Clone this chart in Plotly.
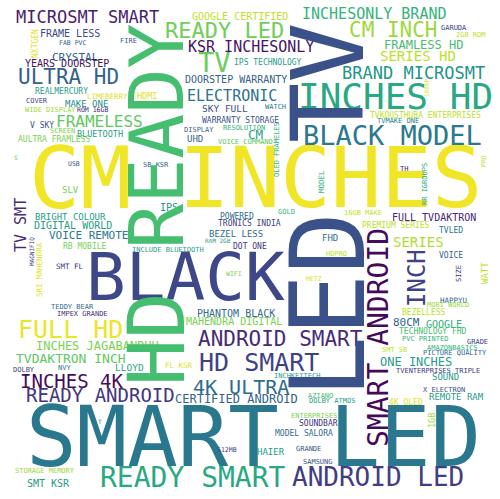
import plotly.graph_objects as go
from plotly.colors import sample_colorscale

# horizontal words: text, centre x/y in picture pixels, font size, viridis tone
words_h = [
    "CM", "INCHES", "SMART LED", "BLACK", "INCHES HD", "BLACK MODEL",
    "READY SMART", "TV", "ANDROID LED", "HD SMART", "FULL HD", "READY LED",
    "ANDROID SMART", "CM INCH", "ULTRA HD", "4K ULTRA", "INCHES 4K", "READY ANDROID",
    "MICROSMT SMART", "BRAND MICROSMT", "FRAMELESS", "KSR INCHESONLY", "INCHESONLY BRAND", "ELECTRONIC",
    "SERIES HD", "SERIES", "TVDAKTRON INCH", "CM", "FRAMLESS HD", "INCHES JAGABANDHU",
    "ONE INCHES", "CERTIFIED ANDROID", "CRYSTAL", "VOICE REMOTE", "80CM", "GOOGLE CERTIFIED",
    "FRAME LESS", "YEARS DOORSTEP", "DOORSTEP WARRANTY", "FULL TVDAKTRON", "DIGITAL WORLD", "PHANTOM BLACK",
    "MAHENDRA DIGITAL", "GOOGLE", "SMT KSR", "SKY FULL", "LLOYD", "UHD",
    "BRIGHT COLOUR", "SLV", "BEZEL LESS", "FHD", "SOUND", "REMOTE RAM",
    "HAIER", "MAKE ONE", "IPS", "HDMI", "BLUETOOTH", "REALMERCURY",
    "V SKY", "AULTRA FRAMLESS", "IPS TECHNOLOGY", "WARRANTY STORAGE", "TVKOUSTHUBA ENTERPRISES", "PREMIUM SERIES",
    "TVLED", "TRONICS INDIA", "POWERED", "DOT ONE", "VOICE", "BEZELLESS",
    "TECHNOLOGY FHD", "RB MOBILE", "4K OLED", "SOUNDBAR", "MODEL SALORA", "LIMEBERRY",
    "SMT FL", "HAPPYU", "FL KSR", "FIRE", "COVER", "WIDE DISPLAY",
    "SCREEN", "SB KSR", "DISPLAY", "RESOLUTION", "VOICE COMMAND", "WATCH",
    "GARUDA", "2GB ROM", "TVMAKE ONE", "TH", "GOLD", "16GB MAKE",
    "HDPRO", "MOBI WORLD", "PVC PRINTED", "GRADE", "SMT SB", "AMAZONBASICS",
    "PICTURE QUALITY", "TVENTERPRISES TRIPLE", "X ELECTRON", "INCLUDE BLUETOOTH", "TEDDY BEAR", "IMPEX GRANDE",
    "DOLBY", "NVY", "INCHKEITECH", "AZIANO", "DOLBY ATMOS", "ENTERPRISES",
    "GRANDE", "SAMSUNG", "STORAGE MEMORY", "FAB PVC", "ROM 16GB", "USB",
    "METZ", "WIFI", "512MB", "RAM 2GB", "S", "T",
]
x_h = [
    80, 330, 253, 185, 395, 392,
    193, 214, 378, 259, 70, 224,
    280, 393, 68, 241, 72, 100,
    87, 413, 99, 251, 374, 232,
    418, 418, 71, 255, 423, 97,
    416, 236, 75, 88, 406, 240,
    70, 67, 236, 434, 73, 236,
    234, 444, 48, 225, 129, 195,
    70, 70, 236, 330, 445, 456,
    271, 86, 169, 147, 100, 61,
    42, 54, 268, 240, 425, 396,
    451, 249, 237, 250, 451, 424,
    433, 85, 406, 318, 304, 107,
    70, 453, 179, 128, 37, 50,
    62, 156, 199, 244, 245, 275,
    454, 471, 398, 404, 286, 363,
    336, 448, 425, 477, 394, 452,
    455, 438, 444, 168, 72, 82,
    24, 64, 297, 320, 332, 314,
    308, 318, 45, 72, 92, 74,
    314, 234, 227, 218, 16, 100,
]
y_h = [
    178, 178, 437, 277, 96, 135,
    477, 62, 477, 362, 329, 30,
    339, 30, 77, 387, 381, 395,
    17, 73, 121, 47, 14, 96,
    56, 242, 358, 134, 45, 346,
    362, 399, 57, 235, 322, 16,
    33, 63, 79, 217, 225, 313,
    321, 324, 483, 108, 367, 139,
    217, 190, 234, 238, 377, 397,
    452, 104, 207, 96, 134, 91,
    125, 139, 62, 120, 115, 225,
    230, 223, 216, 246, 255, 312,
    331, 246, 402, 423, 433, 96,
    266, 300, 365, 41, 101, 110,
    131, 165, 130, 128, 142, 107,
    28, 35, 121, 169, 212, 213,
    254, 305, 339, 342, 350, 348,
    353, 371, 390, 250, 307, 314,
    370, 368, 376, 396, 401, 416,
    449, 462, 471, 43, 110, 164,
    279, 274, 450, 240, 157, 421,
]
size_h = [
    85, 84, 84, 66, 36, 27,
    28, 27, 26, 25, 25, 22,
    21, 21, 21, 20, 19, 19,
    17, 17, 16, 15, 15, 15,
    14, 14, 13, 12.5, 12, 12,
    12, 12, 11, 11, 11, 10,
    10, 10, 10, 10, 10, 10,
    10, 10, 10, 9.5, 9.5, 9,
    9, 9, 9, 9, 9, 9,
    9, 9, 10, 8.5, 8.5, 8,
    8, 8, 8, 8, 8, 8,
    8, 8, 8, 8, 8, 8,
    8, 8, 8, 8, 8, 7.5,
    7.5, 7.5, 7.5, 7, 7, 7,
    7, 7, 7, 7, 7, 7,
    7, 7, 7, 7, 7, 7,
    7, 7, 7, 7, 7, 7,
    7, 7, 7, 7, 7, 7,
    7, 7, 7, 7, 7, 7,
    7, 7, 7, 6.5, 6.5, 6.5,
    6.5, 6.5, 6.5, 6, 6, 6,
]
tone_h = [
    0.98, 0.98, 0.40, 0.22, 0.60, 0.40,
    0.60, 0.77, 0.18, 0.20, 0.97, 0.78,
    0.12, 0.85, 0.30, 0.35, 0.03, 0.15,
    0.08, 0.52, 0.75, 0.05, 0.65, 0.38,
    0.90, 0.88, 0.75, 0.55, 0.70, 0.80,
    0.55, 0.32, 0.32, 0.40, 0.32, 0.90,
    0.22, 0.05, 0.30, 0.10, 0.55, 0.35,
    0.80, 0.62, 0.55, 0.25, 0.60, 0.30,
    0.55, 0.80, 0.35, 0.35, 0.55, 0.55,
    0.55, 0.50, 0.50, 0.95, 0.55, 0.55,
    0.25, 0.80, 0.55, 0.25, 0.90, 0.90,
    0.40, 0.20, 0.35, 0.15, 0.30, 0.90,
    0.70, 0.80, 0.95, 0.15, 0.35, 0.95,
    0.15, 0.35, 0.95, 0.30, 0.22, 0.85,
    0.80, 0.30, 0.30, 0.65, 0.75, 0.40,
    0.20, 0.90, 0.45, 0.10, 0.65, 0.90,
    0.90, 0.85, 0.65, 0.20, 0.90, 0.65,
    0.35, 0.15, 0.25, 0.55, 0.35, 0.15,
    0.20, 0.40, 0.55, 0.70, 0.55, 0.80,
    0.25, 0.25, 0.85, 0.30, 0.10, 0.25,
    0.95, 0.80, 0.20, 0.55, 0.75, 0.50,
]

# vertical words (read bottom to top)
words_v = ["READY", "HD", "TV", "LED", "SMART ANDROID", "INCH", "TV SMT", "WATT", "1GB",
           "NXTGEN", "SRI MAHENDRA", "MODEL", "OLED FRAMELES", "RR IGROUPS", "SIZE", "PRO", "1080P", "MAGNIFIQ"]
x_v = [157, 157, 328, 328, 378, 417, 21, 485, 432, 35, 39, 321, 277, 425, 459, 484, 426, 31]
y_v = [136, 339, 83, 305, 338, 278, 225, 273, 421, 44, 270, 182, 150, 184, 274, 161, 88, 252]
size_v = [75, 78, 100, 103, 28, 24, 15, 9, 8.5, 8, 7.5, 7.5, 7, 7, 7, 6.5, 6, 6]
tone_v = [0.70, 0.70, 0.25, 0.25, 0.02, 0.20, 0.12, 0.90, 0.85, 0.95, 0.95, 0.65, 0.65, 0.62, 0.15, 0.90, 0.95, 0.20]


fig = go.Figure()


def add_words(words, xs, ys, sizes, tones, angle):
    colors = sample_colorscale("Viridis", tones)
    for w, x, y, s, c in zip(words, xs, ys, sizes, colors):
        fig.add_annotation(x=x, y=y, xref="x", yref="y", text=w, textangle=angle,
                           showarrow=False, xanchor="center", yanchor="middle", borderpad=0,
                           font=dict(family="DejaVu Sans Mono", size=s, color=c))


add_words(words_h, x_h, y_h, size_h, tone_h, 0)
add_words(words_v, x_v, y_v, size_v, tone_v, -90)

fig.update_xaxes(range=[0, 500], visible=False, fixedrange=True)
fig.update_yaxes(range=[499, 0], visible=False, fixedrange=True)
fig.update_layout(width=500, height=499, margin=dict(l=0, r=0, t=0, b=0),
                  plot_bgcolor="white", paper_bgcolor="white", showlegend=False)
# page body has a default 8px margin, drop it so the chart sits at 0,0
fig.write_html("out.html", config={"displayModeBar": False},
               post_script="document.body.style.margin='0px';")
